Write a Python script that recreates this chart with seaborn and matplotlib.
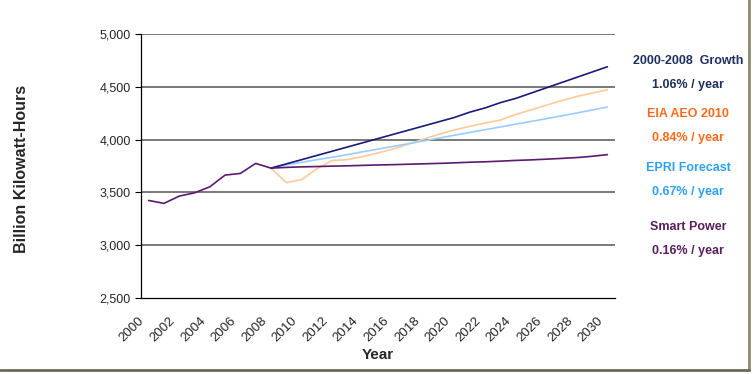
import numpy as np
import pandas as pd
import matplotlib
matplotlib.use('Agg')
import matplotlib.pyplot as plt
import seaborn as sns
from matplotlib.lines import Line2D

# historical (2000-2008)
hist_years = list(range(2000, 2009))
hist_vals = [3424, 3396, 3465, 3496, 3553, 3664, 3680, 3775, 3730]

# projections (2008-2030)
proj_years = list(range(2008, 2031))
growth_vals = [3730, 3770, 3810, 3850, 3890, 3930, 3970, 4010, 4050, 4090, 4130, 4170,
               4210, 4260, 4300, 4350, 4390, 4440, 4490, 4540, 4590, 4640, 4690]
eia_vals = [3730, 3593, 3621, 3724, 3801, 3811, 3839, 3874, 3911, 3958, 4005, 4051,
            4092, 4126, 4157, 4185, 4238, 4281, 4325, 4369, 4409, 4440, 4472]
epri_vals = [3730, 3760, 3785, 3810, 3833, 3858, 3885, 3910, 3936, 3962, 3988, 4015,
             4042, 4068, 4094, 4120, 4146, 4172, 4198, 4225, 4252, 4280, 4309]
smart_vals = [3730, 3737, 3742, 3745, 3749, 3752, 3756, 3760, 3763, 3767, 3771, 3775,
              3780, 3786, 3790, 3796, 3803, 3808, 3815, 3822, 3830, 3842, 3858]

series_names = ['EIA AEO 2010', 'EPRI Forecast', '2000-2008 Growth', 'Smart Power']
line_colors = ['#FFC999', '#99CCFF', '#1A1A7A', '#5C1A6E']
label_lines = [('2000-2008  Growth', '1.06% / year', '#1F3060'),
               ('EIA AEO 2010', '0.84% / year', '#FF6A1A'),
               ('EPRI Forecast', '0.67% / year', '#2FA0F0'),
               ('Smart Power', '0.16% / year', '#5A1E5E')]

sns.set_style('white')
plt.rcParams['font.family'] = ['Liberation Sans', 'DejaVu Sans']

rows = []
for name, vals in zip(series_names, [eia_vals, epri_vals, growth_vals, smart_vals]):
    for yr, v in zip(proj_years, vals):
        rows.append({'Year': yr, 'Value': v, 'Series': name})
df = pd.DataFrame(rows)
hist = pd.DataFrame({'Year': hist_years, 'Value': hist_vals})

fig = plt.figure(figsize=(7.56, 3.74), dpi=100)
ax = fig.add_axes([0.1865, 0.2032, 0.627, 0.7058])

sns.lineplot(data=df, x='Year', y='Value', hue='Series', hue_order=series_names,
             palette=dict(zip(series_names, line_colors)), linewidth=1.2,
             legend=False, ax=ax)
sns.lineplot(data=hist, x='Year', y='Value', color='#5C1A6E', linewidth=1.2, ax=ax)

ax.set_xlim(1999.5, 2030.5)
ax.set_ylim(2500, 5000)
ax.set_yticks(np.arange(2500, 5001, 500))
ax.set_yticklabels([f'{v:,}' for v in range(2500, 5001, 500)], fontsize=9)
# label anchors nudged a little left of each category centre, like the original
label_years = list(range(2000, 2031, 2))
ax.set_xticks([y - 0.4 for y in label_years])
ax.set_xticklabels([str(y) for y in label_years], rotation=45, ha='right',
                   va='center', rotation_mode='anchor', fontsize=9.5)
ax.set_xticks(np.arange(1999.5, 2031, 1), minor=True)
ax.tick_params(axis='x', which='major', length=0, pad=15)
ax.tick_params(axis='x', which='minor', length=4, width=0.8, color='black', direction='out')
ax.tick_params(axis='y', length=4, width=0.8, color='black', direction='out', left=True)
for yv in range(3000, 5001, 500):
    ax.axhline(yv, color='#555555', linewidth=1.1, zorder=0)

for s in ['top', 'right']:
    ax.spines[s].set_visible(False)
for s in ['left', 'bottom']:
    ax.spines[s].set_color('black')
    ax.spines[s].set_linewidth(0.9)

ax.set_xlabel('Year', fontsize=11, fontweight='bold')
ax.xaxis.set_label_coords(0.5, -0.215)
ax.xaxis.label.set_va('center')
ax.set_ylabel('Billion Kilowatt-Hours', fontsize=11.5, fontweight='bold')
ax.yaxis.set_label_coords(-0.253, 0.49)
ax.yaxis.label.set_va('center')

# right-hand annotations
ys = [61, 114, 168, 227]
for (t1, t2, c), yp in zip(label_lines, ys):
    fig.text(688 / 756, 1 - yp / 374, t1, color=c, fontsize=9, fontweight='bold',
             ha='center', va='center')
    fig.text(688 / 756, 1 - (yp + 24) / 374, t2, color=c, fontsize=9, fontweight='bold',
             ha='center', va='center')

# frame shadow like the screenshot
fig.add_artist(Line2D([749 / 756, 749 / 756], [1 - 370 / 374, 1], color='#8a8a70',
                      linewidth=2, transform=fig.transFigure))
fig.add_artist(Line2D([0, 749 / 756], [1 - 370 / 374, 1 - 370 / 374], color='#6b6b55',
                      linewidth=2, transform=fig.transFigure))

fig.savefig('out.png', dpi=100)
